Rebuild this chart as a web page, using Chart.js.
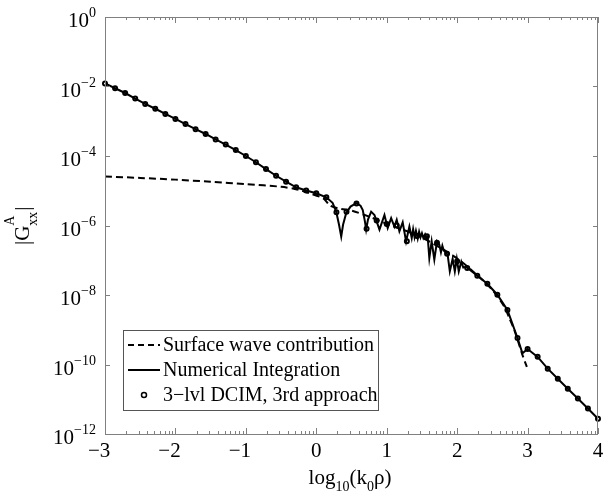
<!DOCTYPE html>
<html>
<head>
<meta charset="utf-8">
<script src="https://cdn.jsdelivr.net/npm/chart.js@4"></script>
<style>
  html, body { margin: 0; padding: 0; background: #fff; }
  #wrap { width: 604px; height: 499px; }
</style>
</head>
<body>
<div id="wrap"><canvas id="chart" width="604" height="499"></canvas></div>
<script>
// values (x = log10(k0*rho), y = |G_xx^A|)

// numerical integration (solid line)
const solidX = [-3, -2.857, -2.714, -2.571, -2.429, -2.286, -2.143, -2, -1.857, -1.714,
  -1.571, -1.429, -1.286, -1.143, -1, -0.857, -0.714, -0.571, -0.429, -0.286, -0.143, 0,
  0.142, 0.231, 0.283, 0.323, 0.354, 0.38, 0.425, 0.486, 0.567, 0.628, 0.66, 0.691, 0.708,
  0.734, 0.779, 0.826, 0.897, 0.968, 1.014, 1.063, 1.109, 1.142, 1.18, 1.227, 1.275, 1.322,
  1.355, 1.375, 1.395, 1.415, 1.44, 1.46, 1.48, 1.5, 1.52, 1.545, 1.565, 1.581, 1.605, 1.638,
  1.676, 1.714, 1.747, 1.77, 1.79, 1.81, 1.865,
  1.896, 1.936, 1.967, 1.995, 2.023, 2.059, 2.087, 2.125, 2.286, 2.429, 2.571, 2.714, 2.857,
  2.927, 3, 3.143, 3.286, 3.429, 3.571, 3.714, 3.857, 4];
const solidY = [1.23e-2, 8.9e-3, 6.5e-3, 4.5e-3, 3.16e-3, 2.29e-3, 1.62e-3, 1.17e-3, 8.3e-4, 5.9e-4,
  4.3e-4, 3.0e-4, 2.14e-4, 1.48e-4, 1.0e-4, 6.6e-5, 4.2e-5, 2.7e-5, 1.82e-5, 1.26e-5, 1.02e-5, 8.5e-6,
  6.5e-6, 4.5e-6, 2.5e-6, 1.05e-6, 4.8e-7, 1.05e-6, 2.3e-6, 3.5e-6, 4.4e-6, 3.7e-6, 2.8e-6, 1.29e-6, 7.6e-7,
  1.48e-6, 2.5e-6, 2.0e-6, 7.6e-7, 2.0e-6, 8.5e-7, 1.62e-6, 9.3e-7, 1.45e-6, 6.8e-7, 1.23e-6, 3.5e-7, 9.3e-7,
  4.4e-7, 7.8e-7, 4.6e-7, 7.0e-7, 4.2e-7, 6.6e-7, 4.6e-7, 6.0e-7, 4.4e-7, 5.6e-7, 4.6e-7, 4.9e-7, 1.15e-7, 3.5e-7,
  1.05e-7, 3.5e-7, 2.8e-7, 1.7e-7, 2.6e-7, 1.9e-7, 1.45e-7,
  4.8e-8, 1.1e-7, 4.8e-8, 1.1e-7, 4.8e-8, 9.1e-8, 6.2e-8, 6.5e-8, 3.6e-8, 2.1e-8, 1.02e-8, 3.7e-9, 5.8e-10,
  2.1e-10, 2.8e-10, 1.66e-10, 7.6e-11, 3.9e-11, 2.0e-11, 1.05e-11, 5.4e-12, 2.75e-12];

// surface wave contribution (dashed line)
const surfX = [-3, -2.5, -2, -1.5, -1, -0.5, -0.25, -0.1, 0.1, 0.2, 0.35, 0.5, 0.75, 1, 1.5, 2,
  2.3, 2.5, 2.668, 2.739, 2.81, 2.927, 2.99];
const surfY = [2.57e-5, 2.34e-5, 2.09e-5, 1.82e-5, 1.55e-5, 1.3e-5, 1.07e-5, 8.5e-6, 6.0e-6, 3.7e-6,
  3.0e-6, 2.7e-6, 1.8e-6, 1.12e-6, 4.5e-7, 1.12e-7, 3.5e-8, 1.4e-8, 4.7e-9, 2.2e-9, 1.0e-9, 1.9e-10, 8.5e-11];

// 3-lvl DCIM samples (circles)
const dcimX = [-3, -2.857, -2.714, -2.571, -2.429, -2.286, -2.143, -2, -1.857, -1.714,
  -1.571, -1.429, -1.286, -1.143, -1, -0.857, -0.714, -0.571, -0.429, -0.286, -0.143, 0,
  0.143, 0.286, 0.429, 0.571, 0.714, 0.857, 1, 1.143, 1.286, 1.429, 1.571, 1.714, 1.857,
  2, 2.143, 2.286, 2.429, 2.571, 2.714, 2.857, 3, 3.143, 3.286, 3.429, 3.571, 3.714, 3.857, 4];
const dcimY = [1.23e-2, 8.9e-3, 6.5e-3, 4.5e-3, 3.16e-3, 2.29e-3, 1.62e-3, 1.17e-3, 8.3e-4, 5.9e-4,
  4.3e-4, 3.0e-4, 2.14e-4, 1.48e-4, 1.0e-4, 6.6e-5, 4.2e-5, 2.7e-5, 1.82e-5, 1.26e-5, 1.02e-5, 8.5e-6,
  6.5e-6, 2.4e-6, 2.5e-6, 4.3e-6, 8.1e-7, 1.4e-6, 1.1e-6, 1.0e-6, 3.5e-7, 5.0e-7, 4.9e-7, 3.2e-7, 1.55e-7,
  9.3e-8, 6.0e-8, 3.6e-8, 2.1e-8, 1.02e-8, 3.7e-9, 5.8e-10, 2.8e-10, 1.66e-10, 7.6e-11, 3.9e-11,
  2.0e-11, 1.05e-11, 5.4e-12, 2.75e-12];

// axis ticks
const xTicks = [-3, -2, -1, 0, 1, 2, 3, 4];
const yExponents = [0, -2, -4, -6, -8, -10, -12];

const legendLabels = ['Surface wave contribution', 'Numerical Integration', '3\u2212lvl DCIM, 3rd approach'];

const FONT = '"Liberation Serif", "Times New Roman", serif';
const AXIS_COLOR = '#808080';

function toPoints(xs, ys) {
  return xs.map((x, i) => ({ x: x, y: ys[i] }));
}

// draw a run of text pieces (for sub/superscripts)
function drawParts(ctx, parts, x, y, align) {
  let w = 0;
  parts.forEach(p => {
    ctx.font = p.size + 'px ' + FONT;
    p.w = ctx.measureText(p.t).width;
    w += p.w;
  });
  let cx = x;
  if (align === 'right') cx = x - w;
  if (align === 'center') cx = x - w / 2;
  ctx.textAlign = 'left';
  ctx.textBaseline = 'alphabetic';
  parts.forEach(p => {
    ctx.font = p.size + 'px ' + FONT;
    ctx.fillText(p.t, cx, y + (p.dy || 0));
    cx += p.w;
  });
}

const decorPlugin = {
  id: 'decor',
  afterDraw(chart) {
    const ctx = chart.ctx;
    const a = chart.chartArea;
    const xs = chart.scales.x;
    const ys = chart.scales.y;
    ctx.save();

    // frame
    ctx.strokeStyle = AXIS_COLOR;
    ctx.lineWidth = 1;
    ctx.strokeRect(a.left + 0.5, a.top + 0.5, a.right - a.left - 1, a.bottom - a.top);

    // x ticks (major + log-style minor), bottom and top
    ctx.beginPath();
    for (let n = -3; n <= 4; n++) {
      const px = Math.round(xs.getPixelForValue(n)) + 0.5;
      ctx.moveTo(px, a.bottom); ctx.lineTo(px, a.bottom - 6);
      ctx.moveTo(px, a.top); ctx.lineTo(px, a.top + 6);
      if (n < 4) {
        for (let m = 2; m <= 9; m++) {
          const mx = Math.round(xs.getPixelForValue(n + Math.log10(m))) + 0.5;
          ctx.moveTo(mx, a.bottom); ctx.lineTo(mx, a.bottom - 3);
          ctx.moveTo(mx, a.top); ctx.lineTo(mx, a.top + 3);
        }
      }
    }
    // y ticks, left and right
    yExponents.forEach(e => {
      const py = Math.round(ys.getPixelForValue(Math.pow(10, e))) + 0.5;
      ctx.moveTo(a.left, py); ctx.lineTo(a.left + 5, py);
      ctx.moveTo(a.right, py); ctx.lineTo(a.right - 5, py);
    });
    ctx.stroke();

    ctx.fillStyle = '#000';

    // x tick labels: digit centred on the tick, minus sign before it
    xTicks.forEach(v => {
      const px = xs.getPixelForValue(v);
      const digit = String(Math.abs(v));
      ctx.font = '21px ' + FONT;
      ctx.textBaseline = 'alphabetic';
      ctx.textAlign = 'center';
      ctx.fillText(digit, px, 457);
      if (v < 0) {
        const dw = ctx.measureText(digit).width;
        ctx.textAlign = 'right';
        ctx.fillText('\u2212', px - dw / 2, 457);
      }
    });

    // y tick labels 10^e
    yExponents.forEach(e => {
      const py = ys.getPixelForValue(Math.pow(10, e));
      const ex = e < 0 ? '\u2212' + Math.abs(e) : String(e);
      drawParts(ctx, [
        { t: '10', size: 21, dy: 10 },
        { t: ex, size: 14, dy: 0 }
      ], 96, py, 'right');
    });

    // x axis title
    drawParts(ctx, [
      { t: 'log', size: 21 },
      { t: '10', size: 14, dy: 7 },
      { t: '(k', size: 21 },
      { t: '0', size: 14, dy: 7 },
      { t: '\u03c1)', size: 21 }
    ], 350, 484, 'center');

    // y axis title |G^A_xx|, rotated
    ctx.save();
    ctx.translate(29, 245);
    ctx.rotate(-Math.PI / 2);
    ctx.textAlign = 'left';
    ctx.textBaseline = 'alphabetic';
    ctx.font = '21px ' + FONT;
    let cx = 0;
    ctx.fillText('|G', cx, 0);
    cx += ctx.measureText('|G').width;
    ctx.font = '14px ' + FONT;
    ctx.fillText('A', cx, -15);
    ctx.fillText('xx', cx, 8);
    cx += Math.max(ctx.measureText('A').width, ctx.measureText('xx').width) + 1;
    ctx.font = '21px ' + FONT;
    ctx.fillText('|', cx, 0);
    ctx.restore();

    // legend
    const lx = 123, ly = 330, lw = 255, lh = 80;
    ctx.fillStyle = '#fff';
    ctx.fillRect(lx, ly, lw, lh);
    ctx.strokeStyle = '#555';
    ctx.lineWidth = 1;
    ctx.strokeRect(lx + 0.5, ly + 0.5, lw, lh);
    const rows = [345, 370, 395];
    ctx.strokeStyle = '#000';
    ctx.lineWidth = 2;
    ctx.setLineDash([6, 4]);
    ctx.beginPath(); ctx.moveTo(128, rows[0]); ctx.lineTo(160, rows[0]); ctx.stroke();
    ctx.setLineDash([]);
    ctx.beginPath(); ctx.moveTo(128, rows[1]); ctx.lineTo(160, rows[1]); ctx.stroke();
    ctx.lineWidth = 1.5;
    ctx.beginPath(); ctx.arc(144, rows[2], 2.5, 0, Math.PI * 2); ctx.stroke();
    ctx.fillStyle = '#000';
    ctx.font = '20px ' + FONT;
    ctx.textAlign = 'left';
    ctx.textBaseline = 'middle';
    legendLabels.forEach((t, i) => ctx.fillText(t, 163, rows[i] + 1));

    ctx.restore();
  }
};

new Chart(document.getElementById('chart'), {
  type: 'line',
  data: {
    datasets: [
      {
        label: legendLabels[2],
        data: toPoints(dcimX, dcimY),
        showLine: false,
        pointRadius: 2,
        pointBorderWidth: 2,
        pointBorderColor: '#000',
        pointBackgroundColor: 'rgba(0,0,0,0)',
        clip: false,
        order: 0
      },
      {
        label: legendLabels[1],
        data: toPoints(solidX, solidY),
        borderColor: '#000',
        borderWidth: 2,
        pointRadius: 0,
        tension: 0,
        order: 1
      },
      {
        label: legendLabels[0],
        data: toPoints(surfX, surfY),
        borderColor: '#000',
        borderWidth: 2,
        borderDash: [7, 4],
        pointRadius: 0,
        tension: 0.3,
        order: 2
      }
    ]
  },
  options: {
    responsive: false,
    animation: false,
    devicePixelRatio: 1,
    layout: { padding: { left: 105, right: 5, top: 17, bottom: 65 } },
    plugins: { legend: { display: false }, tooltip: { enabled: false } },
    scales: {
      x: { type: 'linear', min: -3, max: 4, display: false },
      y: { type: 'logarithmic', min: 1e-12, max: 1, display: false }
    }
  },
  plugins: [decorPlugin]
});
</script>
</body>
</html>
